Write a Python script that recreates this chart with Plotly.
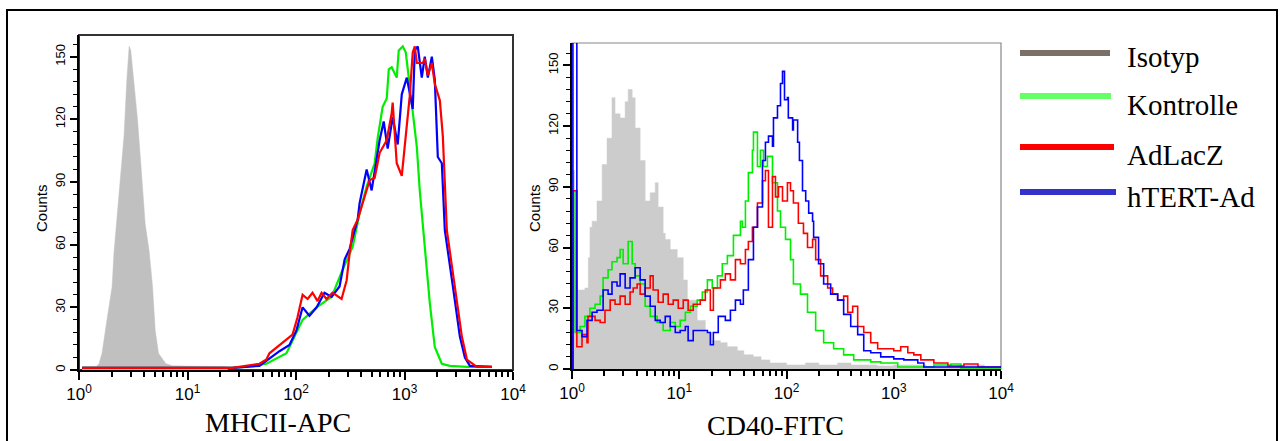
import plotly.graph_objects as go

W, H = 1282, 441

# ---------------- data (fluorescence intensity, counts) ----------------
series_names = ["Isotyp", "Kontrolle", "AdLacZ", "hTERT-Ad"]
legend_colors = ["#7a7068", "#66ff66", "#ff0000", "#3333cc"]
line_colors = ["#c0c0c0", "#00ee00", "#ff0000", "#0000ff"]

# MHCII-APC panel
mhc_iso_x = [1.07, 1.44, 1.53, 1.63, 1.81, 2.02, 2.10, 2.24, 2.32, 2.60, 2.76, 2.90, 3.00, 3.22, 3.46,
             3.71, 3.90, 4.07, 4.43, 4.76, 5.04, 5.40, 6.32, 7.23, 22.8, 23.5]
mhc_iso_y = [1.6, 1.6, 3, 8, 24, 40, 56, 72, 80, 112, 139, 155, 153, 136, 120,
             99, 85, 70, 57, 40, 19, 8, 3, 2, 1.6, 0]

mhc_kon_x = [1.07, 25.9, 33.4, 53.4, 81.7, 115, 155, 213, 269, 333, 386, 448, 531, 566, 629, 686, 716,
             762, 848, 885, 964, 1028, 1072, 1191, 1298, 1382, 1474, 1606, 1711, 1902, 2208, 2618,
             3759, 6134]
mhc_kon_y = [1, 1, 1.5, 3, 8, 24, 30, 35, 48, 59, 75, 88, 99, 111, 126, 130, 144,
             145, 140, 153, 155, 152, 144, 123, 107, 86, 70, 48, 32, 11, 3, 2,
             1.5, 1.5]

mhc_lac_x = [1.07, 25.9, 46, 53.4, 56.9, 70.4, 81.7, 92.9, 103, 115, 128, 142, 158, 172, 191, 217,
             263, 293, 312, 333, 370, 478, 531, 590, 686, 762, 778, 848, 944, 1050, 1117, 1191,
             1244, 1298, 1474, 1538, 1641, 1786, 1902, 2118, 2255, 2455, 2911, 3379, 3759, 4647,
             6398]
mhc_lac_y = [1, 1, 3, 5, 8, 12, 15, 17, 25, 36, 34, 37, 33, 37, 34, 37,
             34, 43, 56, 67, 72, 91, 92, 104, 110, 123, 128, 99, 93, 118, 131, 152,
             155, 147, 147, 149, 141, 147, 137, 129, 112, 67, 40, 16, 5, 1.5,
             1.5]

mhc_ht_x = [1.07, 25.9, 46, 70.4, 87.1, 101, 115, 133, 155, 183, 213, 252, 281, 312, 370, 386,
            448, 498, 590, 643, 700, 778, 866, 944, 1050, 1117, 1191, 1244, 1325, 1443, 1538,
            1641, 1786, 1902, 2028, 2208, 2353, 2792, 3238, 3603, 4009, 6398]
mhc_ht_y = [1, 1, 2, 9, 12, 19, 30, 26, 30, 37, 35, 40, 53, 58, 72, 80,
            96, 86, 110, 119, 106, 121, 108, 132, 140, 133, 125, 153, 155, 140, 150,
            140, 150, 139, 102, 99, 67, 40, 16, 6, 2, 1.5]

# CD40-FITC panel
cd_iso_x = [1.0, 1.02, 1.06, 1.32, 1.42, 1.47, 1.54, 1.71, 1.91, 2.12, 2.36, 2.52, 2.81, 3.13, 3.34,
            3.64, 3.88, 4.32, 4.81, 5.36, 5.97, 6.36, 7.08, 7.40, 8.24, 9.58, 10.9, 11.9, 12.1,
            14.7, 17.5, 20, 24.2, 28, 34.8, 40, 49, 58, 70, 85, 100, 150, 200, 300, 400, 700,
            1000, 2000, 4000, 6000, 7000]
cd_iso_y = [98, 98, 39, 40, 55, 70, 73, 83, 101, 114, 134, 126, 124, 132, 138,
            134, 119, 103, 83, 87, 92, 80, 67, 64, 59, 55, 44, 33, 34,
            24, 18, 14, 13, 11, 9, 7, 6, 4.5, 3, 3, 2, 3, 2, 3, 2, 1.5,
            2, 1, 2, 2, 0]

cd_kon_x = [1.0, 1.02, 1.07, 1.19, 1.32, 1.47, 1.64, 1.83, 1.95, 2.17, 2.36, 2.63, 2.81, 3.00, 3.34,
            3.64, 3.88, 4.32, 4.81, 5.36, 6.23, 7.08, 8.24, 9.18, 10.2, 11.4, 12.7, 14.7, 16.4,
            18.3, 20.3, 22.7, 25.2, 28.1, 32.0, 37.2, 38.8, 41.4, 44.1, 48.1, 49.2, 53.6, 57.1,
            61.0, 66.4, 74.0, 82.4, 87.9, 97.9, 109, 116, 135, 157, 187, 222, 275, 341, 423,
            610, 758, 1089, 1442, 2364, 3410, 4225, 10000]
cd_kon_y = [0, 88, 18, 21, 26, 30, 32, 36, 45, 49, 53, 55, 59, 52, 63,
            52, 46, 42, 31, 26, 23, 19, 23, 21, 24, 28, 31, 34, 38,
            44, 40, 46, 52, 56, 66, 73, 70, 83, 97, 108, 117, 100, 108,
            100, 105, 92, 78, 70, 64, 54, 42, 37, 28, 19, 13, 10, 7, 4.5,
            3.5, 3, 1, 1, 2, 2.5, 0.5, 0.5]

cd_lac_x = [1.0, 1.02, 1.11, 1.24, 1.38, 1.41, 1.64, 1.83, 2.03, 2.27, 2.52, 2.81, 3.13, 3.48, 3.72,
            4.05, 4.32, 4.81, 5.36, 5.71, 6.36, 7.08, 7.89, 8.79, 9.79, 10.9, 12.1, 13.5, 15.7,
            17.5, 19.5, 20.8, 24.2, 26.9, 30.0, 33.4, 37.2, 41.4, 44.1, 48.1, 53.6, 59.7, 63.6,
            67.9, 74.0, 78.9, 84.2, 91.8, 102, 109, 116, 129, 144, 157, 175, 187, 208, 242, 269,
            300, 341, 372, 414, 461, 525, 610, 708, 879, 1000, 1161, 1352, 1538, 1788, 2364,
            3197, 4510, 6097, 10000]
cd_lac_y = [0, 88, 11, 17, 13, 26, 24, 23, 29, 34, 32, 36, 32, 38, 40,
            42, 37, 40, 46, 39, 33, 37, 32, 34, 30, 34, 29, 32, 34,
            39, 29, 40, 44, 47, 44, 54, 52, 59, 63, 70, 82, 93, 98,
            70, 95, 85, 90, 83, 92, 88, 82, 72, 67, 60, 64, 54, 46, 40, 37,
            34, 36, 28, 31, 21, 18, 13, 10, 10, 9, 11, 8, 7, 4.5, 3,
            1.5, 2.5, 1, 0.5]

cd_ht_x = [1.0, 1.02, 1.06, 1.11, 1.24, 1.38, 1.54, 1.71, 1.95, 2.17, 2.36, 2.63, 2.81, 3.13, 3.48,
           3.88, 4.32, 4.81, 5.36, 5.97, 6.64, 7.40, 8.24, 9.18, 10.2, 11.4, 12.1, 13.5, 16.4,
           18.3, 19.5, 20.8, 23.1, 26.9, 30.0, 33.4, 37.2, 39.6, 44.1, 49.2, 53.6, 59.7, 63.6,
           67.9, 74.0, 75.6, 82.4, 87.9, 91.8, 95.8, 102, 104, 114, 116, 127, 132, 141, 151,
           161, 175, 179, 199, 222, 258, 300, 341, 397, 461, 525, 610, 756, 1000, 1240, 1675,
           1907, 3197, 10000]
cd_ht_y = [0, 300, 300, 19, 16, 24, 28, 29, 39, 37, 43, 41, 47, 40, 45,
           50, 44, 36, 31, 24, 23, 26, 21, 18, 19, 21, 14, 19, 19,
           18, 12, 18, 26, 24, 29, 34, 32, 39, 54, 70, 80, 103, 112,
           115, 110, 124, 130, 141, 147, 133, 134, 124, 118, 123, 112, 103, 88, 83,
           77, 73, 65, 52, 42, 37, 34, 27, 21, 17, 9, 8, 6, 5, 4.5, 3,
           1, 1, 0.5]

# ---------------- figure ----------------
fig = go.Figure()

def px2x(p):
    return p / W

def px2y(p):
    return 1 - p / H

panels = [
    dict(xa="x", ya="y", shape="linear", width=2.2,
         iso=(mhc_iso_x, mhc_iso_y),
         lines=[(mhc_kon_x, mhc_kon_y, 1), (mhc_ht_x, mhc_ht_y, 3), (mhc_lac_x, mhc_lac_y, 2)],
         fill="#c0c0c0"),
    dict(xa="x2", ya="y2", shape="hv", width=1.6,
         iso=(cd_iso_x, cd_iso_y),
         lines=[(cd_kon_x, cd_kon_y, 1), (cd_lac_x, cd_lac_y, 2), (cd_ht_x, cd_ht_y, 3)],
         fill="#cccccc"),
]

for p in panels:
    ix, iy = p["iso"]
    fig.add_trace(go.Scatter(x=ix, y=iy, mode="lines", line=dict(color=p["fill"], width=0.5, shape=p["shape"]),
                             fill="tozeroy", fillcolor=p["fill"], name=series_names[0],
                             xaxis=p["xa"], yaxis=p["ya"], showlegend=False, hoverinfo="skip"))
    for lx, ly, k in p["lines"]:
        fig.add_trace(go.Scatter(x=lx, y=ly, mode="lines",
                                 line=dict(color=line_colors[k], width=p["width"], shape=p["shape"]),
                                 name=series_names[k], xaxis=p["xa"], yaxis=p["ya"], showlegend=False))

decades = [1, 10, 100, 1000, 10000]
dec_text = ["10<sup>%d</sup>" % i for i in range(5)]
minor_x = [m * d for d in decades[:-1] for m in range(2, 10)]

def xaxis_cfg(x0, x1, anchor):
    return dict(type="log", range=[0, 4], domain=[px2x(x0), px2x(x1)], anchor=anchor, automargin=False,
                tickvals=decades, ticktext=dec_text, ticks="outside", ticklen=8, tickwidth=1.5,
                tickcolor="black", showline=True, linecolor="black", linewidth=2,
                showgrid=False, zeroline=False,
                tickfont=dict(family="Liberation Sans, Arial", size=17, color="black"),
                minor=dict(tickvals=minor_x, ticks="outside", ticklen=5, tickwidth=1.5,
                           tickcolor="black", showgrid=False))

def yaxis_cfg(y_top, y_bot, top, anchor):
    return dict(range=[0, top], domain=[px2y(y_bot), px2y(y_top)], anchor=anchor, automargin=False,
                tickvals=[0, 30, 60, 90, 120, 150], tickangle=-90,
                ticks="outside", ticklen=7, tickwidth=1.5, tickcolor="black",
                showline=True, linecolor="black", linewidth=2, showgrid=False, zeroline=False,
                tickfont=dict(family="Liberation Sans, Arial", size=13, color="black"),
                minor=dict(dtick=6, tick0=0, ticks="outside", ticklen=4, tickwidth=1.2,
                           tickcolor="black", showgrid=False))

fig.update_layout(
    width=W, height=H, margin=dict(l=0, r=0, t=0, b=0, autoexpand=False),
    paper_bgcolor="white", plot_bgcolor="white", showlegend=False,
    xaxis=xaxis_cfg(79, 513, "y"), yaxis=yaxis_cfg(35, 370, 160.4, "x"),
    xaxis2=xaxis_cfg(572, 1001, "y2"), yaxis2=yaxis_cfg(43, 369, 161, "x2"),
)

shapes = []
# panel frames (top / right borders)
shapes.append(dict(type="rect", xref="x domain", yref="y domain", x0=0, x1=1, y0=0, y1=1,
                   line=dict(color="#333333", width=2), layer="below"))
shapes.append(dict(type="rect", xref="x2 domain", yref="y2 domain", x0=0, x1=1, y0=0, y1=1,
                   line=dict(color="#888888", width=1.2), layer="below"))
# outer border
shapes.append(dict(type="rect", xref="paper", yref="paper", x0=px2x(7), x1=px2x(1277),
                   y0=px2y(470), y1=px2y(10), line=dict(color="black", width=2)))

annotations = []
# legend
leg_y = [53, 96, 147, 192]
leg_txt_y = [57, 105, 155, 197]
leg_x1 = [1110, 1111, 1114, 1116]
for name, col, ly, ty, x1 in zip(series_names, legend_colors, leg_y, leg_txt_y, leg_x1):
    shapes.append(dict(type="line", xref="paper", yref="paper", x0=px2x(1020), x1=px2x(x1),
                       y0=px2y(ly), y1=px2y(ly), line=dict(color=col, width=6)))
    annotations.append(dict(text=name, xref="paper", yref="paper", x=px2x(1125), y=px2y(ty),
                            xanchor="left", yanchor="middle", showarrow=False,
                            font=dict(family="Liberation Serif, Times New Roman", size=29, color="black")))

# axis titles
for txt, cx, cy in [("MHCII-APC", 278, 422), ("CD40-FITC", 775, 425)]:
    annotations.append(dict(text=txt, xref="paper", yref="paper", x=px2x(cx), y=px2y(cy),
                            xanchor="center", yanchor="middle", showarrow=False,
                            font=dict(family="Liberation Serif, Times New Roman", size=28, color="black")))
for cx, cy in [(41, 208), (534, 208)]:
    annotations.append(dict(text="Counts", xref="paper", yref="paper", x=px2x(cx), y=px2y(cy),
                            xanchor="center", yanchor="middle", showarrow=False, textangle=-90,
                            font=dict(family="Liberation Sans, Arial", size=15, color="black")))

fig.update_layout(shapes=shapes, annotations=annotations)
fig.write_html("out.html", config={"displayModeBar": False})

# remove the browser's default page margin so the figure sits at the window origin
with open("out.html", encoding="utf-8") as f:
    html = f.read()
html = html.replace("<body>", '<body style="margin:0;padding:0;overflow:hidden">', 1)
with open("out.html", "w", encoding="utf-8") as f:
    f.write(html)
